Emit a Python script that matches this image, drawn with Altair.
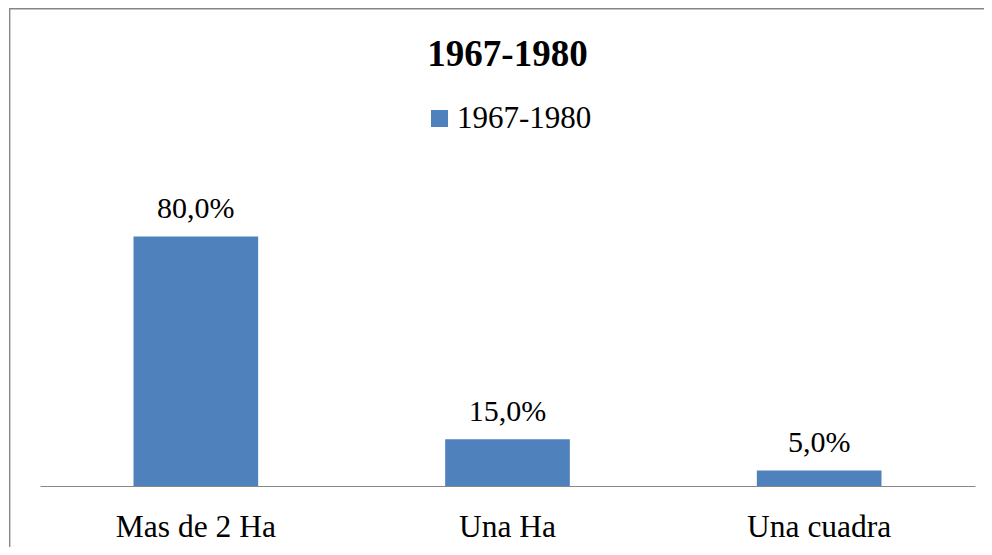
import altair as alt
import pandas as pd

categories = ["Mas de 2 Ha", "Una Ha", "Una cuadra"]
values = [0.80, 0.15, 0.05]
series_name = "1967-1980"
title_text = "1967-1980"

df = pd.DataFrame({
    "categoria": categories,
    "valor": values,
    "serie": [series_name] * len(categories),
})

W, H = 935, 312
FONT = "Liberation Serif"
GRAY = "#878787"
BLUE = "#4F81BD"

x_enc = alt.X(
    "categoria:N",
    sort=categories,
    scale=alt.Scale(paddingInner=0.6, paddingOuter=0.3),
    axis=alt.Axis(
        title=None, labelAngle=0, ticks=False, domainColor=GRAY, domainWidth=1,
        labelFont=FONT, labelFontSize=31.5, labelColor="black",
        labelBaseline="alphabetic", labelPadding=50,
    ),
)
y_enc = alt.Y("valor:Q", scale=alt.Scale(domain=[0, 1]), axis=None)

bars = alt.Chart(df).mark_bar().encode(
    x=x_enc,
    y=y_enc,
    color=alt.Color(
        "serie:N",
        scale=alt.Scale(range=[BLUE]),
        legend=alt.Legend(
            title=None, orient="none", legendX=384, legendY=-71,
            symbolType="square", symbolSize=289, symbolStrokeWidth=0,
            labelFont=FONT, labelFontSize=31, labelColor="black",
            labelOffset=2, padding=0,
        ),
    ),
)

labels = alt.Chart(df).transform_calculate(
    txt="replace(format(datum.valor, '.1%'), '.', ',')"
).mark_text(
    font=FONT, fontSize=30, color="black", baseline="alphabetic", dy=-18
).encode(
    x=alt.X("categoria:N", sort=categories),
    y=alt.Y("valor:Q"),
    text="txt:N",
)

border = alt.Chart(pd.DataFrame({"b": [0]})).mark_rect(
    filled=False, stroke=GRAY, strokeWidth=1.4
).encode(
    x=alt.value(-30.3), x2=alt.value(W + 80),
    y=alt.value(-165.3), y2=alt.value(H + 120),
)

chart = alt.layer(border, bars, labels).properties(
    width=W, height=H,
    title=alt.TitleParams(
        title_text, font=FONT, fontSize=37, fontWeight="bold", color="black",
        anchor="middle", baseline="alphabetic", frame="group", offset=-95,
    ),
    autosize=alt.AutoSizeParams(type="none"),
    padding={"left": 32, "top": 166, "right": 9, "bottom": 61},
).configure_view(stroke=None)

chart.save("out.html", embed_options={"renderer": "svg", "actions": False})
